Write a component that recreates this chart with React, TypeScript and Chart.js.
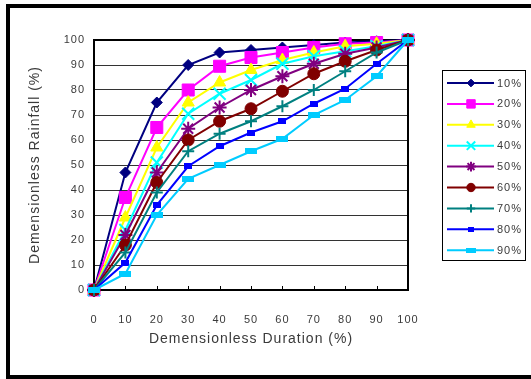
import React, { useEffect, useRef } from 'react';
import { Chart, registerables } from 'chart.js';
import * as helpers from 'chart.js/helpers';

Chart.register(...registerables);

const durations = [0, 10, 20, 30, 40, 50, 60, 70, 80, 90, 100];
const seriesLabels = ['10%', '20%', '30%', '40%', '50%', '60%', '70%', '80%', '90%'];
const rain10 = [0, 47, 75, 90, 95, 96, 97, 98, 99, 99.5, 100];
const rain20 = [0, 37, 65, 80, 89.5, 93, 95, 97, 98.5, 99, 100];
const rain30 = [0, 29, 57, 75, 83, 88, 92, 95, 97.5, 98.5, 100];
const rain40 = [0, 24, 51, 70.5, 78.5, 84, 90.5, 93.5, 95.5, 97.5, 100];
const rain50 = [0, 22, 47, 64.5, 73, 80, 85.5, 90.5, 94.5, 97, 100];
const rain60 = [0, 18, 43, 60, 67.5, 72.5, 79.5, 86.5, 91.5, 96, 100];
const rain70 = [0, 15, 39, 55.5, 62.5, 67.5, 73.5, 80, 87.5, 95, 100];
const rain80 = [0, 11, 34, 49.5, 57.5, 63, 67.5, 74.5, 80.5, 90.5, 100];
const rain90 = [0, 6.5, 30, 44.5, 50, 55.5, 60.5, 70, 76, 85.5, 100];
const allSeries = [rain10, rain20, rain30, rain40, rain50, rain60, rain70, rain80, rain90];

const colors = ['#000080', '#FF00FF', '#FFFF00', '#00FFFF', '#800080', '#800000', '#008080', '#0000FF', '#00CCFF'];
const FONT = "'Liberation Sans', Arial, sans-serif";
const TEXT = '#3a3a3a';

function makeRect(w: number, h: number, color: string) {
  const c = document.createElement('canvas');
  c.width = w;
  c.height = h;
  const g = c.getContext('2d')!;
  g.fillStyle = color;
  g.fillRect(0, 0, w, h);
  return c;
}

export default function App() {
  const ref = useRef<HTMLCanvasElement>(null);
  useEffect(() => {
    if (!ref.current) return;
    const styles: any[] = [
      { pointStyle: 'rectRot', radius: 5.5, bw: 1 },
      { pointStyle: 'rect', radius: 8.5, bw: 1 },
      { pointStyle: 'triangle', radius: 7, bw: 1 },
      { pointStyle: 'crossRot', radius: 8.5, bw: 2 },
      { pointStyle: 'star', radius: 7, bw: 2 },
      { pointStyle: 'circle', radius: 6, bw: 1 },
      { pointStyle: 'cross', radius: 6, bw: 2 },
      { pointStyle: makeRect(8, 6, colors[7]), radius: 5, bw: 1, img: true, lw: 6, lh: 5 },
      { pointStyle: makeRect(12, 6, colors[8]), radius: 6, bw: 1, img: true, lw: 10, lh: 5 },
    ];
    const datasets = allSeries.map((s, i) => ({
      label: seriesLabels[i],
      data: durations.map((d, j) => ({ x: d, y: s[j] })),
      borderColor: colors[i],
      backgroundColor: colors[i],
      borderWidth: 2,
      pointStyle: styles[i].pointStyle,
      pointRadius: styles[i].radius,
      pointBorderWidth: styles[i].bw,
      pointBackgroundColor: colors[i],
      pointBorderColor: colors[i],
      clip: false as any,
      order: 9 - i,
      tension: 0,
    }));

    const decor = {
      id: 'decor',
      beforeDraw(chart: any) {
        const ctx = chart.ctx;
        ctx.save();
        ctx.fillStyle = '#fff';
        ctx.fillRect(0, 0, chart.width, chart.height);
        ctx.fillStyle = '#000';
        ctx.fillRect(6, 4, 531, 4);
        ctx.fillRect(6, 4, 4, 375);
        ctx.fillRect(6, 375, 531, 4);
        ctx.restore();
        ctx.letterSpacing = '1px';
      },
      beforeDatasetsDraw(chart: any) {
        const ctx = chart.ctx;
        const a = chart.chartArea;
        const xs = chart.scales.x;
        ctx.save();
        ctx.strokeStyle = '#000';
        ctx.lineWidth = 2;
        ctx.strokeRect(a.left, a.top, a.right - a.left, a.bottom - a.top);
        ctx.lineWidth = 1;
        durations.forEach((d) => {
          const px = Math.round(xs.getPixelForValue(d)) + 0.5;
          ctx.beginPath();
          ctx.moveTo(px, a.bottom);
          ctx.lineTo(px, a.bottom - 4);
          ctx.stroke();
        });
        ctx.restore();
      },
      afterDraw(chart: any) {
        const ctx = chart.ctx;
        ctx.save();
        ctx.strokeStyle = '#000';
        ctx.lineWidth = 1;
        ctx.strokeRect(442.5, 70.5, 83, 190);
        chart.data.datasets.forEach((ds: any, i: number) => {
          const y = 83 + i * 20.9;
          ctx.strokeStyle = ds.borderColor;
          ctx.fillStyle = ds.backgroundColor;
          ctx.lineWidth = 2;
          ctx.beginPath();
          ctx.moveTo(447, y);
          ctx.lineTo(494, y);
          ctx.stroke();
          const st = styles[i];
          if (st.img) {
            ctx.drawImage(st.pointStyle, 471 - st.lw / 2, y - st.lh / 2, st.lw, st.lh);
          } else {
            ctx.lineWidth = st.bw;
            helpers.drawPoint(ctx, { pointStyle: st.pointStyle, radius: st.radius * 0.7, borderWidth: st.bw, rotation: 0 } as any, 471, y);
          }
          ctx.fillStyle = TEXT;
          ctx.font = `11px ${FONT}`;
          ctx.textBaseline = 'middle';
          ctx.textAlign = 'left';
          ctx.fillText(ds.label, 497, y + 0.5);
        });
        ctx.restore();
      },
    };

    const chart = new Chart(ref.current, {
      type: 'line',
      data: { datasets },
      plugins: [decor],
      options: {
        animation: false,
        responsive: false,
        layout: { padding: { left: 0, top: 40, right: 123, bottom: 0 } },
        plugins: { legend: { display: false }, tooltip: { enabled: false } },
        scales: {
          x: {
            type: 'linear',
            min: 0,
            max: 100,
            afterFit: (s: any) => { s.height = 89; },
            ticks: { stepSize: 10, padding: 15, color: TEXT, font: { family: FONT, size: 11 }, maxRotation: 0 },
            grid: { display: false },
            border: { display: true, color: '#000', width: 2 },
            title: { display: true, text: 'Demensionless Duration (%)', color: TEXT, font: { family: FONT, size: 14 }, padding: { top: 0, bottom: 31 } },
          },
          y: {
            type: 'linear',
            min: 0,
            max: 100,
            afterFit: (s: any) => { s.width = 94; },
            ticks: { stepSize: 10, padding: 9, color: TEXT, font: { family: FONT, size: 11 } },
            grid: { color: '#333', lineWidth: 1, drawTicks: false },
            border: { display: true, color: '#000', width: 2 },
            title: { display: true, text: 'Demensionless Rainfall (%)', color: TEXT, font: { family: FONT, size: 14 }, padding: { top: 27, bottom: 0 } },
          },
        },
      },
    });
    return () => chart.destroy();
  }, []);
  return (
    <div style={{ position: 'absolute', left: 0, top: 0, width: 531, height: 379, background: '#fff' }}>
      <canvas ref={ref} width={531} height={379} style={{ display: 'block', width: 531, height: 379 }} />
    </div>
  );
}
